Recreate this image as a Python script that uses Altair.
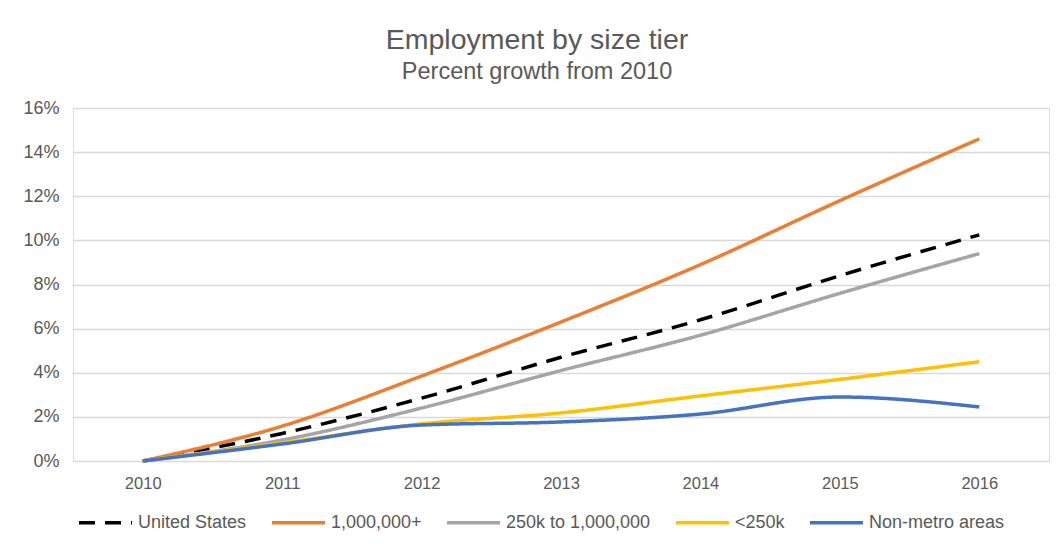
import altair as alt
import pandas as pd

years = ["2010", "2011", "2012", "2013", "2014", "2015", "2016"]
series_names = ["United States", "1,000,000+", "250k to 1,000,000", "<250k", "Non-metro areas"]
us = [0.0, 0.0125, 0.0285, 0.047, 0.064, 0.084, 0.1025]
big = [0.0, 0.0158, 0.0385, 0.063, 0.089, 0.118, 0.146]
mid = [0.0, 0.0095, 0.024, 0.041, 0.057, 0.076, 0.094]
small = [0.0, 0.0082, 0.0168, 0.0218, 0.0295, 0.037, 0.045]
nonmetro = [0.0, 0.0077, 0.0163, 0.0177, 0.0213, 0.029, 0.0245]
colors = ["#000000", "#ED7D31", "#A5A5A5", "#FFC000", "#4472C4"]
dashes = [[16, 10], [1, 0], [1, 0], [1, 0], [1, 0]]
y_ticks = [0, 0.02, 0.04, 0.06, 0.08, 0.10, 0.12, 0.14, 0.16]

rows = []
for name, vals in zip(series_names, [us, big, mid, small, nonmetro]):
    for yr, v in zip(years, vals):
        rows.append({"year": yr, "series": name, "value": v})
df = pd.DataFrame(rows)

W, H = 976, 353
PL, PT = 65, 100

lines = alt.Chart(df).mark_line(strokeWidth=3.5, interpolate="monotone").encode(
    x=alt.X("year:N", sort=years, scale=alt.Scale(type="point", padding=0.5),
            axis=alt.Axis(title=None, labelAngle=0, ticks=False, domain=False,
                          labelPadding=14, labelFontSize=16.5, labelColor="#595959",
                          labelFont="Liberation Sans")),
    y=alt.Y("value:Q", scale=alt.Scale(domain=[0, 0.16], nice=False),
            axis=alt.Axis(title=None, values=y_ticks, format=".0%", ticks=False,
                          domain=False, labelPadding=14, labelFontSize=18,
                          labelColor="#595959", labelFont="Liberation Sans",
                          gridColor="#d9d9d9", gridWidth=1.5)),
    color=alt.Color("series:N", sort=series_names,
                    scale=alt.Scale(domain=series_names, range=colors),
                    legend=alt.Legend(title=None, orient="none", direction="horizontal",
                                      legendX=4, legendY=386, symbolType="stroke",
                                      symbolSize=2809, symbolStrokeWidth=3.5,
                                      labelFontSize=18, labelColor="#595959",
                                      labelFont="Liberation Sans", columnPadding=18,
                                      labelOffset=4)),
    strokeDash=alt.StrokeDash("series:N", sort=series_names,
                              scale=alt.Scale(domain=series_names, range=dashes),
                              legend=None),
)

chart = lines.properties(
    width=W, height=H,
    title=alt.TitleParams(
        text="Employment by size tier",
        subtitle="Percent growth from 2010",
        anchor="middle", dx=-24, offset=16,
        fontSize=28.5, subtitleFontSize=23.5, font="Liberation Sans",
        subtitleFont="Liberation Sans", fontWeight="normal",
        color="#595959", subtitleColor="#595959", subtitlePadding=5,
    ),
    autosize=alt.AutoSizeParams(type="none"),
    padding={"left": PL, "top": PT, "right": 7, "bottom": 78},
).configure_view(stroke=None).configure(background="white")

chart.save("out.html", embed_options={"renderer": "svg", "actions": False})
